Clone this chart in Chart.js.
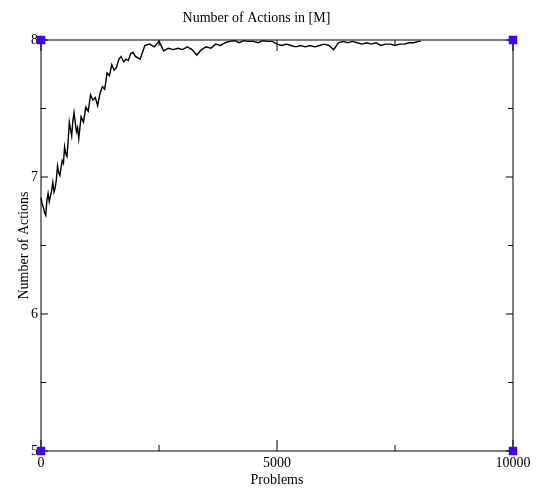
<!DOCTYPE html>
<html>
<head>
<meta charset="utf-8">
<script src="https://cdn.jsdelivr.net/npm/chart.js@4"></script>
<style>
  body { margin: 0; background: #fff; }
</style>
</head>
<body>
<canvas id="chart" width="541" height="489"></canvas>
<script>
// problems solved (x) and mean number of actions (y)
const problems = [
    0, 25, 50, 75, 100, 125, 150, 175, 200, 225,
    250, 275, 300, 325, 350, 375, 400, 425, 450, 475,
    500, 525, 550, 575, 600, 625, 650, 675, 700, 725,
    750, 775, 800, 850, 900, 950,
    1000, 1050, 1100, 1150, 1200, 1250, 1300, 1350, 1400, 1450,
    1500, 1550, 1600, 1650, 1700, 1750, 1800, 1850, 1900, 1950,
    2000, 2100, 2200, 2300, 2400, 2500, 2600, 2700, 2800, 2900,
    3000, 3100, 3200, 3300, 3400, 3500, 3600, 3700, 3800, 3900,
    4000, 4100, 4200, 4300, 4400, 4500, 4600, 4700, 4800, 4900,
    5000, 5100, 5200, 5300, 5400, 5500, 5600, 5700, 5800, 5900,
    6000, 6100, 6200, 6300, 6400, 6500, 6600, 6700, 6800, 6900,
    7000, 7100, 7200, 7300, 7400, 7500, 7600, 7700, 7800, 7900,
    8000, 8050
]
const actions = [
    6.85, 6.80, 6.78, 6.74, 6.72, 6.83, 6.88, 6.82, 6.86, 6.90,
    6.96, 6.89, 6.92, 6.98, 7.08, 7.03, 7.01, 7.07, 7.12, 7.10,
    7.22, 7.17, 7.15, 7.26, 7.40, 7.35, 7.30, 7.41, 7.47, 7.40,
    7.33, 7.36, 7.28, 7.44, 7.40, 7.51,
    7.48, 7.60, 7.56, 7.58, 7.52, 7.61, 7.66, 7.64, 7.76, 7.74,
    7.82, 7.78, 7.80, 7.86, 7.88, 7.84, 7.86, 7.85, 7.90, 7.91,
    7.88, 7.86, 7.96, 7.97, 7.95, 7.99, 7.92, 7.94, 7.93, 7.94,
    7.93, 7.95, 7.93, 7.89, 7.93, 7.95, 7.94, 7.97, 7.96, 7.98,
    7.99, 7.995, 7.98, 7.995, 7.99, 7.99, 7.98, 7.995, 7.99, 7.99,
    7.97, 7.96, 7.97, 7.96, 7.95, 7.96, 7.95, 7.96, 7.95, 7.96,
    7.97, 7.96, 7.93, 7.98, 7.99, 7.98, 7.99, 7.98, 7.97, 7.98,
    7.97, 7.98, 7.96, 7.97, 7.97, 7.96, 7.97, 7.97, 7.98, 7.98,
    7.99, 7.99
]

// the blue corner markers
const cornerX = [0, 0, 10000, 10000]
const cornerY = [5, 8, 5, 8]

const xTicksMajor = [0, 5000, 10000]
const xTicksMinor = [2500, 7500]
const yTicksMajor = [5, 6, 7, 8]
const yTicksMinor = [5.5, 6.5, 7.5]

const serif = "'Liberation Serif', 'Times New Roman', serif"

// frame and inward tick marks on all four sides
const frameTicks = {
    id: 'frameTicks',
    beforeDatasetsDraw(chart) {
        const ctx = chart.ctx
        const a = chart.chartArea
        const xs = chart.scales.x
        const ys = chart.scales.y
        ctx.save()
        ctx.strokeStyle = '#000'
        ctx.lineWidth = 1
        ctx.strokeRect(a.left, a.top, a.right - a.left, a.bottom - a.top)
        ctx.beginPath()
        const xt = (v, len) => {
            const p = xs.getPixelForValue(v)
            ctx.moveTo(p, a.bottom); ctx.lineTo(p, a.bottom - len)
            ctx.moveTo(p, a.top); ctx.lineTo(p, a.top + len)
        }
        const yt = (v, len) => {
            const p = ys.getPixelForValue(v)
            ctx.moveTo(a.left, p); ctx.lineTo(a.left + len, p)
            ctx.moveTo(a.right, p); ctx.lineTo(a.right - len, p)
        }
        xTicksMajor.forEach(v => xt(v, 11))
        xTicksMinor.forEach(v => xt(v, 6))
        yTicksMajor.forEach(v => yt(v, 7))
        yTicksMinor.forEach(v => yt(v, 5))
        ctx.stroke()
        ctx.restore()
    }
}

const config = {
    type: 'scatter',
    data: {
        datasets: [
            {
                label: 'corners',
                data: cornerX.map((x, i) => ({ x: x, y: cornerY[i] })),
                pointStyle: 'rect',
                pointRadius: 6,
                pointBorderWidth: 0,
                backgroundColor: '#3f00ff',
                borderColor: '#3f00ff',
                clip: false,
                order: 0
            },
            {
                label: 'actions',
                data: problems.map((x, i) => ({ x: x, y: actions[i] })),
                showLine: true,
                pointRadius: 0,
                borderColor: '#000',
                borderWidth: 1.4,
                clip: false,
                order: 1
            }
        ]
    },
    options: {
        responsive: false,
        animation: false,
        devicePixelRatio: 1,
        layout: { padding: { left: 0, right: 28, top: 0, bottom: 0 } },
        plugins: {
            legend: { display: false },
            tooltip: { enabled: false },
            title: {
                display: true,
                text: 'Number of Actions in [M]',
                color: '#000',
                font: { family: serif, size: 14, weight: 'normal' },
                padding: { top: 10, bottom: 13.2 }
            }
        },
        scales: {
            x: {
                type: 'linear',
                min: 0,
                max: 10000,
                afterFit: s => { s.height = 38 },
                afterBuildTicks: s => { s.ticks = xTicksMajor.map(v => ({ value: v })) },
                grid: { display: false, drawTicks: false },
                border: { display: false },
                ticks: {
                    color: '#000',
                    padding: 4,
                    maxRotation: 0,
                    font: { family: serif, size: 14 },
                    callback: v => String(v)
                },
                title: {
                    display: true,
                    text: 'Problems',
                    color: '#000',
                    font: { family: serif, size: 14 },
                    padding: { top: 0, bottom: 0 }
                }
            },
            y: {
                min: 5,
                max: 8,
                afterFit: s => { s.width = 41 },
                afterBuildTicks: s => { s.ticks = yTicksMajor.map(v => ({ value: v })) },
                grid: { display: false, drawTicks: false },
                border: { display: false },
                ticks: {
                    color: '#000',
                    padding: 3,
                    font: { family: serif, size: 14 },
                    callback: v => String(v)
                },
                title: {
                    display: true,
                    text: 'Number of Actions',
                    color: '#000',
                    font: { family: serif, size: 14 },
                    padding: { top: 16, bottom: 0 }
                }
            }
        }
    },
    plugins: [frameTicks]
}

new Chart(document.getElementById('chart'), config)
</script>
</body>
</html>
